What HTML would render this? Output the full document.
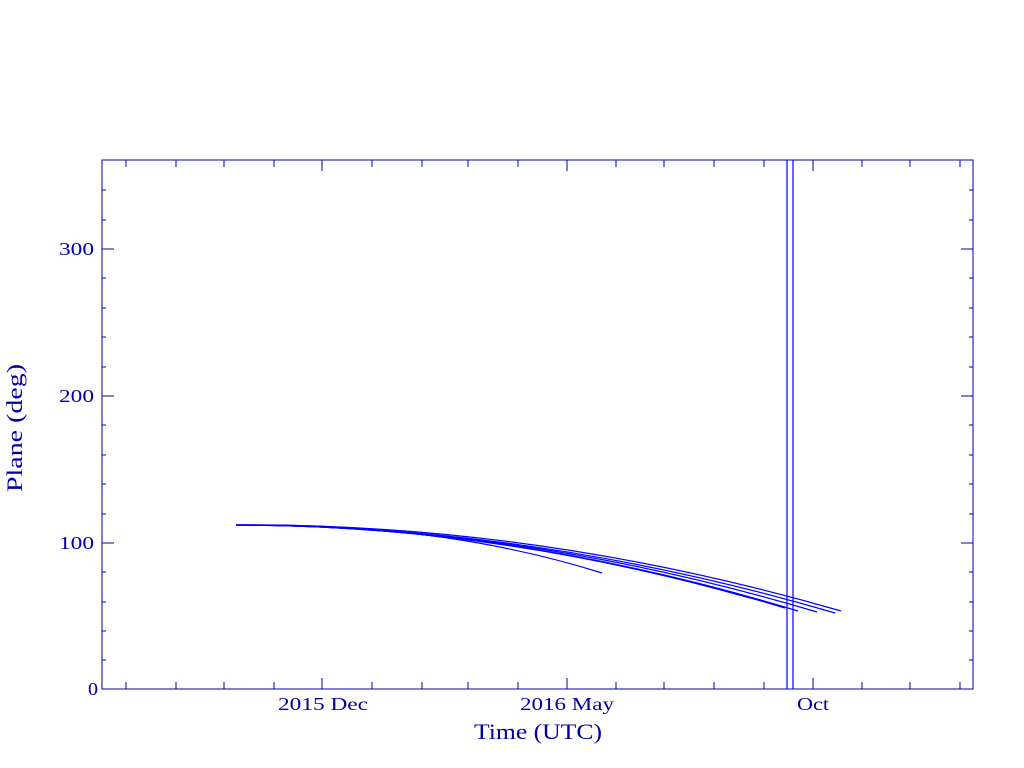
<!DOCTYPE html>
<html><head><meta charset="utf-8"><style>
html,body{margin:0;padding:0;background:#fff;width:1024px;height:768px;overflow:hidden}
svg{display:block}
text{font-family:"Liberation Serif",serif;fill:#0000a0}
</style></head><body>
<svg width="1024" height="768" viewBox="0 0 1024 768" xmlns="http://www.w3.org/2000/svg">
<rect x="102" y="160" width="871" height="529" fill="none" stroke="#0000a0" stroke-width="1"/>
<g stroke="#0000a0" stroke-width="1" fill="none">
<path d="M126 689v-7M176 689v-7M224 689v-7M274 689v-7M372 689v-7M422 689v-7M468 689v-7M518 689v-7M616 689v-7M664 689v-7M714 689v-7M764 689v-7M862 689v-7M910 689v-7M960 689v-7
M322 689v-11M567 689v-11M813 689v-11
M126 160v7M176 160v7M224 160v7M274 160v7M372 160v7M422 160v7M468 160v7M518 160v7M616 160v7M664 160v7M714 160v7M764 160v7M862 160v7M910 160v7M960 160v7
M322 160v11M567 160v11M813 160v11"/>
<path d="M102 543h12M102 396h12M102 249h12M973 543h-12M973 396h-12M973 249h-12
M102 660h4M102 631h4M102 602h4M102 572h4M102 514h4M102 484h4M102 455h4M102 425h4M102 367h4M102 337h4M102 308h4M102 278h4M102 220h4M102 190h4
M973 660h-4M973 631h-4M973 602h-4M973 572h-4M973 514h-4M973 484h-4M973 455h-4M973 425h-4M973 367h-4M973 337h-4M973 308h-4M973 278h-4M973 220h-4M973 190h-4"/>
</g>
<g stroke="#0000ff" stroke-width="1.2" fill="none">
<path d="M236 525 Q440 522 602 573"/>
<path d="M236 525 Q493 525 750 598"/>
<path d="M236 525 Q510 525 785 608"/>
<path d="M236 525 Q517 525 798 611"/>
<path d="M236 525 Q526 525 817 612"/>
<path d="M236 525 Q535 525 835 613"/>
<path d="M236 525 Q537 523 841 611"/>
<path d="M787 160V689M793 160V689"/>
</g>
<g font-size="18">
<text x="88" y="695" textLength="10" lengthAdjust="spacingAndGlyphs">0</text>
<text x="59" y="549" textLength="35" lengthAdjust="spacingAndGlyphs">100</text>
<text x="59" y="402" textLength="35" lengthAdjust="spacingAndGlyphs">200</text>
<text x="59" y="255" textLength="35" lengthAdjust="spacingAndGlyphs">300</text>
<text x="278" y="710" textLength="90" lengthAdjust="spacingAndGlyphs">2015 Dec</text>
<text x="520" y="710" textLength="94" lengthAdjust="spacingAndGlyphs">2016 May</text>
<text x="797" y="710" textLength="32" lengthAdjust="spacingAndGlyphs">Oct</text>
</g>
<text x="474" y="739" font-size="22" textLength="128" lengthAdjust="spacingAndGlyphs">Time (UTC)</text>
<text transform="translate(22 492) rotate(-90)" font-size="22" textLength="128" lengthAdjust="spacingAndGlyphs">Plane (deg)</text>
</svg>
</body></html>
